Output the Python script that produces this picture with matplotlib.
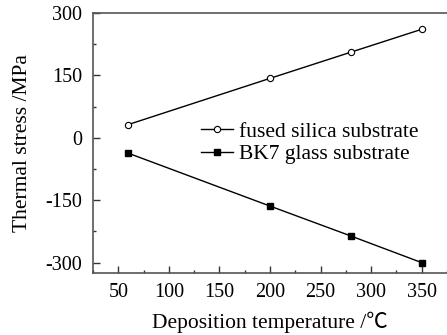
import matplotlib
matplotlib.use("Agg")
import matplotlib.pyplot as plt
from matplotlib.ticker import MultipleLocator

# Data
temperature = [60, 200, 280, 350]
fused_silica = [32, 143, 206, 261]
bk7_glass = [-37, -164, -236, -300]

x_ticks = [50, 100, 150, 200, 250, 300, 350]
y_ticks = [-300, -150, 0, 150, 300]

plt.rcParams["font.family"] = ["Liberation Serif", "Noto Sans CJK SC", "DejaVu Serif"]
plt.rcParams["axes.unicode_minus"] = False

fig = plt.figure(figsize=(4.47, 3.35), dpi=100)
ax = fig.add_axes([0.208, 0.185, 0.792, 0.776])

ax.plot(temperature, fused_silica, color="black", linewidth=1.0, marker="o",
        markersize=4.5, markerfacecolor="white", markeredgecolor="black",
        markeredgewidth=0.8, label="fused silica substrate")
ax.plot(temperature, bk7_glass, color="black", linewidth=1.0, marker="s",
        markersize=4.5, markerfacecolor="black", markeredgecolor="black",
        label="BK7 glass substrate")

ax.set_xlim(25, 375)
ax.set_ylim(-325, 300)
ax.set_xticks(x_ticks)
ax.set_yticks(y_ticks)
ax.xaxis.set_minor_locator(MultipleLocator(25))
ax.yaxis.set_minor_locator(MultipleLocator(75))
ax.tick_params(which="both", direction="in", width=1.0, colors="#333333",
               labelcolor="black", labelsize=14.5)
ax.tick_params(which="major", length=5)
ax.tick_params(which="minor", length=2.5)
ax.tick_params(axis="x", pad=7)
ax.tick_params(axis="y", pad=8)

for side in ("left", "top", "bottom"):
    ax.spines[side].set_color("#555555")
    ax.spines[side].set_linewidth(1.2)
ax.spines["right"].set_visible(False)

ax.set_xlabel("Deposition temperature /\u2103", fontsize=15.5, labelpad=7)
ax.set_ylabel("Thermal stress /MPa", fontsize=15.5, labelpad=9)

ax.legend(loc="center left", bbox_to_anchor=(0.305, 0.5), frameon=False,
          handlelength=1.5, handletextpad=0.25, labelspacing=0.1,
          borderpad=0, borderaxespad=0, fontsize=15.5)

fig.savefig("out.png", dpi=100)
